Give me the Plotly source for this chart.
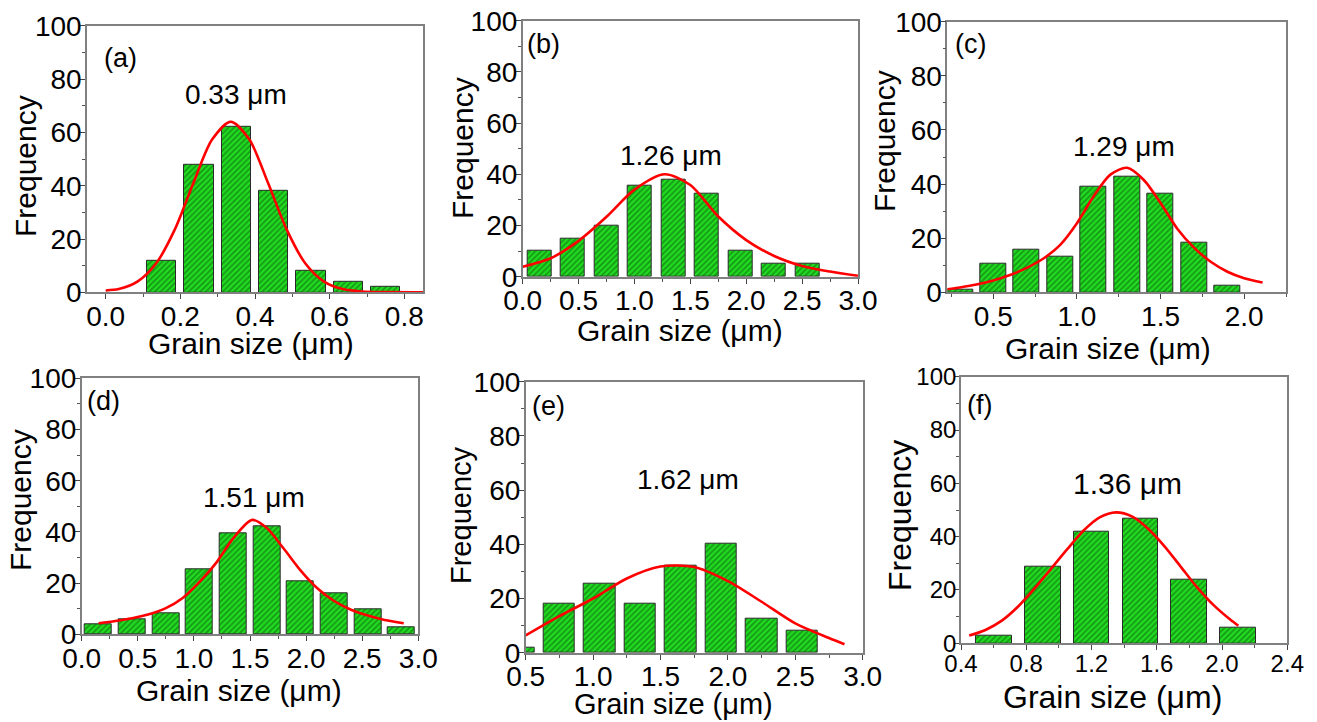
import plotly.graph_objects as go

W, H = 1317, 722

# ---------------- data ----------------
# (a)
a_bar_x = [0.15, 0.25, 0.35, 0.45, 0.55, 0.65, 0.75]
a_bar_y = [12, 48, 62, 38, 8, 4, 2]
a_fit_x = [0.0, 0.035, 0.085, 0.135, 0.185, 0.235, 0.285, 0.335, 0.385, 0.435, 0.485, 0.535, 0.585, 0.635, 0.685, 0.75, 0.85]
a_fit_y = [0.7, 1.2, 4.0, 10.8, 23.5, 41, 57.3, 64, 57.3, 41, 23.5, 10.8, 4.0, 1.2, 0.3, 0.05, 0.0]
# (b)
b_bar_x = [0.15, 0.45, 0.75, 1.05, 1.35, 1.65, 1.95, 2.25, 2.55]
b_bar_y = [10, 15, 20, 35.5, 38, 32.5, 10, 5, 5]
b_fit_x = [0.0, 0.25, 0.5, 0.75, 1.0, 1.27, 1.5, 1.75, 2.0, 2.25, 2.5, 2.75, 3.0]
b_fit_y = [3.9, 7.2, 14, 23.4, 34, 40, 35.8, 23.5, 14.3, 8.1, 4.2, 2.0, 0.3]
# (c)
c_bar_x = [0.3, 0.5, 0.7, 0.9, 1.1, 1.3, 1.5, 1.7, 1.9]
c_bar_y = [1.1, 10.4, 15.8, 13.1, 38.9, 42.8, 36.4, 18.4, 2.6]
c_fit_x = [0.225, 0.3, 0.4, 0.5, 0.6, 0.7, 0.8, 0.9, 1.0, 1.1, 1.2, 1.3, 1.4, 1.5, 1.6, 1.7, 1.8, 1.9, 2.0, 2.11]
c_fit_y = [1.1, 1.8, 2.9, 4.4, 6.4, 9.0, 12.5, 17.5, 25.5, 35.5, 43.5, 46, 41.5, 33, 23.5, 16.5, 11.3, 7.6, 5.2, 3.6]
# (d)
d_bar_x = [0.15, 0.45, 0.75, 1.05, 1.35, 1.65, 1.95, 2.25, 2.55, 2.85]
d_bar_y = [3.9, 6.0, 8.2, 25.4, 39.5, 42.2, 20.8, 16.0, 9.9, 2.7]
d_fit_x = [0.15, 0.3, 0.45, 0.6, 0.75, 0.9, 1.05, 1.2, 1.35, 1.52, 1.65, 1.8, 1.95, 2.1, 2.25, 2.4, 2.55, 2.7, 2.87]
d_fit_y = [4.3, 5.2, 6.3, 7.8, 10.2, 14.2, 20.5, 28, 37.5, 44.7, 41.5, 33.5, 25, 18, 13, 9.6, 7.3, 5.6, 4.3]
# (e)
e_bar_x = [0.45, 0.75, 1.05, 1.35, 1.65, 1.95, 2.25, 2.55]
e_bar_y = [2, 18.1, 25.3, 18.1, 32.2, 40.2, 12.4, 8.2]
e_fit_x = [0.5, 0.75, 1.0, 1.25, 1.5, 1.75, 2.0, 2.25, 2.5, 2.75, 2.865]
e_fit_y = [6.4, 13.5, 20.0, 27.4, 31.8, 31.6, 26.4, 18.8, 10.8, 5.4, 3.1]
# (f)
f_bar_x = [0.6, 0.9, 1.2, 1.5, 1.8, 2.1]
f_bar_y = [2.9, 28.75, 41.9, 46.9, 23.75, 5.9]
f_fit_x = [0.45, 0.55, 0.65, 0.75, 0.85, 0.95, 1.05, 1.15, 1.25, 1.35, 1.45, 1.55, 1.65, 1.75, 1.85, 1.95, 2.05, 2.1]
f_fit_y = [2.9, 5.0, 8.5, 13.8, 20.5, 27.8, 35.2, 42.2, 47.2, 49.1, 47.5, 42.8, 36.2, 28.5, 20.8, 14.2, 8.9, 6.6]

panel_letters = ["(a)", "(b)", "(c)", "(d)", "(e)", "(f)"]
mean_labels = ["0.33 \u03bcm", "1.26 \u03bcm", "1.29 \u03bcm", "1.51 \u03bcm", "1.62 \u03bcm", "1.36 \u03bcm"]
x_title = "Grain size (\u03bcm)"
y_title = "Frequency"

# ---------------- layout (pixels) ----------------
panels = [
    dict(bx=a_bar_x, by=a_bar_y, fx=a_fit_x, fy=a_fit_y, bw=0.078,
         box=(87, 423, 25.8, 292.3), xr=[-0.05, 0.85], dt=0.2, mdt=0.1, fs=28,
         letter=(102, 58), mean=(236, 95), xt=(251, 343), yt=(25, 166), tfs=30, mfs=28),
    dict(bx=b_bar_x, by=b_bar_y, fx=b_fit_x, fy=b_fit_y, bw=0.215,
         box=(522.7, 858, 20.7, 276.7), xr=[0, 3.0], dt=0.5, mdt=0.25, fs=28,
         letter=(525, 44), mean=(671, 155), xt=(680, 331), yt=(462, 148), tfs=30, mfs=28),
    dict(bx=c_bar_x, by=c_bar_y, fx=c_fit_x, fy=c_fit_y, bw=0.155,
         box=(947.3, 1286, 21.7, 292.3), xr=[0.225, 2.25], dt=0.5, mdt=0.25, fs=28,
         letter=(953, 44), mean=(1124, 146), xt=(1108, 348), yt=(884, 141), tfs=30, mfs=28),
    dict(bx=d_bar_x, by=d_bar_y, fx=d_fit_x, fy=d_fit_y, bw=0.24,
         box=(81.7, 418.3, 378.3, 634.3), xr=[0, 3.0], dt=0.5, mdt=0.25, fs=28,
         letter=(85, 401), mean=(254, 497), xt=(239, 690), yt=(20, 500), tfs=30, mfs=28),
    dict(bx=e_bar_x, by=e_bar_y, fx=e_fit_x, fy=e_fit_y, bw=0.233,
         box=(525.7, 862.7, 381.7, 652.7), xr=[0.5, 3.0], dt=0.5, mdt=0.25, fs=28,
         letter=(530, 406), mean=(688, 479), xt=(673, 704), yt=(461, 515), tfs=29, mfs=28),
    dict(bx=f_bar_x, by=f_bar_y, fx=f_fit_x, fy=f_fit_y, bw=0.22,
         box=(961, 1287.3, 376.7, 643.3), xr=[0.4, 2.4], dt=0.4, mdt=0.2, fs=24,
         letter=(965, 405), mean=(1127, 483), xt=(1112, 697), yt=(900, 516), tfs=32, mfs=30),
]

FONT = "Liberation Sans, Arial, sans-serif"
AXIS_GRAY = "#808080"

fig = go.Figure()
annotations = []
layout = {}


def px_x(v):
    return v / W


def px_y(v):
    return 1 - v / H


for i, p in enumerate(panels):
    n = "" if i == 0 else str(i + 1)
    xa, ya = "x" + n, "y" + n
    fig.add_trace(go.Bar(
        x=p["bx"], y=p["by"], width=p["bw"], xaxis=xa, yaxis=ya,
        marker=dict(color="#1ee01e",
                    line=dict(color="#2a2a2a", width=1),
                    pattern=dict(shape="/", fgcolor="#0a5a0a", bgcolor="#22e022",
                                 size=4, solidity=0.5)),
        showlegend=False, hoverinfo="x+y"))
    fig.add_trace(go.Scatter(
        x=p["fx"], y=p["fy"], mode="lines", xaxis=xa, yaxis=ya,
        line=dict(color="#ff0000", width=2.6, shape="spline", smoothing=0.8),
        showlegend=False))
    x0, x1, y0, y1 = p["box"]
    layout["xaxis" + n] = dict(
        domain=[px_x(x0), px_x(x1)], anchor=ya, range=p["xr"], automargin=False,
        tickmode="linear", tick0=0, dtick=p["dt"], tickformat=".1f",
        ticks="outside", ticklen=5, tickwidth=1.3, tickcolor="#444444",
        minor=dict(ticks="outside", ticklen=3, tickwidth=1.1, tickcolor="#555555", dtick=p["mdt"], tick0=0),
        showline=True, linecolor=AXIS_GRAY, linewidth=1.6, mirror=True,
        showgrid=False, zeroline=False, ticklabelstandoff=-7,
        tickfont=dict(family=FONT, size=p["fs"], color="black"))
    layout["yaxis" + n] = dict(
        domain=[px_y(y1), px_y(y0)], anchor=xa, range=[0, 100], automargin=False,
        tickmode="linear", tick0=0, dtick=20,
        ticks="outside", ticklen=5, tickwidth=1.3, tickcolor="#444444",
        minor=dict(ticks="outside", ticklen=3, tickwidth=1.1, tickcolor="#555555", dtick=10),
        showline=True, linecolor=AXIS_GRAY, linewidth=1.6, mirror=True,
        showgrid=False, zeroline=False, ticklabelstandoff=-7,
        tickfont=dict(family=FONT, size=p["fs"], color="black"))
    lx, ly = p["letter"]
    annotations.append(dict(text=panel_letters[i], x=px_x(lx), y=px_y(ly), xref="paper", yref="paper",
                            xanchor="left", yanchor="middle", showarrow=False,
                            font=dict(family=FONT, size=27, color="black")))
    mx, my = p["mean"]
    annotations.append(dict(text=mean_labels[i], x=px_x(mx), y=px_y(my), xref="paper", yref="paper",
                            xanchor="center", yanchor="middle", showarrow=False,
                            font=dict(family=FONT, size=p["mfs"], color="black")))
    tx, ty = p["xt"]
    annotations.append(dict(text=x_title, x=px_x(tx), y=px_y(ty), xref="paper", yref="paper",
                            xanchor="center", yanchor="middle", showarrow=False,
                            font=dict(family=FONT, size=p["tfs"], color="black")))
    vx, vy = p["yt"]
    annotations.append(dict(text=y_title, x=px_x(vx), y=px_y(vy), xref="paper", yref="paper",
                            xanchor="center", yanchor="middle", showarrow=False, textangle=-90,
                            font=dict(family=FONT, size=p["tfs"], color="black")))

fig.update_layout(
    width=W, height=H,
    margin=dict(l=0, r=0, t=0, b=0),
    paper_bgcolor="white", plot_bgcolor="white",
    bargap=0, showlegend=False,
    annotations=annotations,
    **layout)

fig.write_html("out.html", config={"displayModeBar": False},
               post_script="document.body.style.margin='0';document.body.style.overflow='hidden';")
